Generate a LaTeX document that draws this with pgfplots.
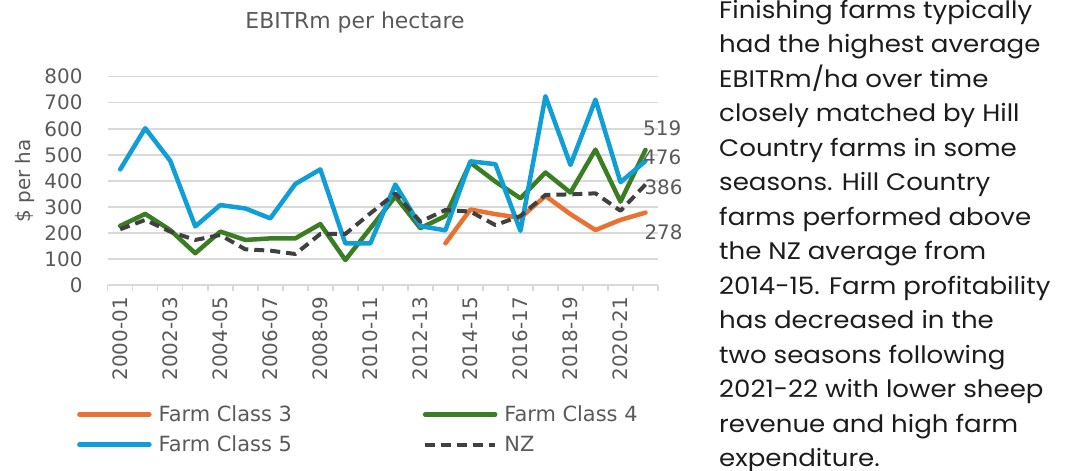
\documentclass[border=0pt]{standalone}
\usepackage{pgfplots}
\pgfplotsset{compat=1.18}
\usepackage{fontspec}
\setmainfont{DejaVu Sans}
\newfontfamily\bodyfont[FakeStretch=1.09]{Poppins}
\definecolor{fcthree}{HTML}{E97132}
\definecolor{fcfour}{HTML}{3B7D23}
\definecolor{fcfive}{HTML}{0F9ED5}
\definecolor{nzgray}{HTML}{404040}
\definecolor{gridgray}{HTML}{D9D9D9}
\definecolor{tickgray}{HTML}{595959}
\definecolor{bodytext}{HTML}{1C1C1C}
\begin{document}
\begin{tikzpicture}[x=1bp,y=1bp]
\useasboundingbox (0,0) rectangle (1079,471);
\clip (0,0) rectangle (1079,471);
\begin{axis}[
  at={(107.7bp,186bp)}, anchor=south west,
  scale only axis, width=550.3bp, height=208.3bp,
  xmin=-0.5, xmax=21.5, ymin=0, ymax=800,
  clip=false,
  axis x line*=bottom, axis y line*=left,
  x axis line style={-, gridgray, line width=1.5bp},
  y axis line style={draw=none},
  ytick={0,100,...,800},
  ymajorgrids, grid style={gridgray, line width=1.5bp},
  ytick style={draw=none},
  xtick={0,2,...,20},
  xticklabels={2000-01,2002-03,2004-05,2006-07,2008-09,2010-11,2012-13,2014-15,2016-17,2018-19,2020-21},
  xtick style={draw=none},
  extra x ticks={-0.5,0.5,...,21.5},
  extra x tick labels={},
  extra x tick style={grid=none, xtick style={draw=gridgray, line width=1.5bp}, major tick length=6bp, tick align=outside},
  /pgf/number format/assume math mode=true,
  tick label style={font=\fontsize{20}{24}\selectfont, text=tickgray},
  yticklabel style={inner sep=0pt, anchor=east, xshift=-25bp},
  xticklabel style={inner sep=0pt, yshift=-12bp, rotate=90, anchor=east},
  ylabel={\$ per ha},
  ylabel style={at={(axis description cs:-0.1503,0.5)}, anchor=center, font=\fontsize{20}{24}\selectfont, text=tickgray},
  title={EBITRm per hectare},
  title style={at={(axis description cs:0.4494,1.234)}, anchor=center, font=\fontsize{22}{26}\selectfont, text=tickgray},
  legend columns=2,
  legend cell align=left,
  legend style={at={(axis description cs:-0.0558,-0.5782)}, anchor=north west, draw=none, fill=none,
    font=\fontsize{21}{25}\selectfont, text=tickgray, inner sep=0pt,
    nodes={inner sep=0pt},
    row sep=13bp,
    /tikz/every odd column/.append style={column sep=7bp},
    /tikz/every even column/.append style={column sep=131bp}},
  legend image code/.code={\draw[#1] (0bp,0bp) -- (70bp,0bp);},
  every axis plot/.append style={line width=4.5bp, line join=round, line cap=round},
]
\addplot[fcthree] coordinates {(13,160) (14,290) (15,272) (16,258) (17,342) (18,272) (19,211) (20,250) (21,278)};
\addlegendentry{Farm Class 3}
\addplot[fcfour] coordinates {(0,227) (1,273) (2,211) (3,122) (4,205) (5,173) (6,179) (7,179) (8,234) (9,96) (10,218) (11,340) (12,218) (13,265) (14,470) (15,397) (16,333) (17,432) (18,355) (19,520) (20,320) (21,519)};
\addlegendentry{Farm Class 4}
\addplot[fcfive] coordinates {(0,444) (1,602) (2,477) (3,225) (4,307) (5,294) (6,256) (7,388) (8,444) (9,160) (10,160) (11,386) (12,226) (13,210) (14,475) (15,464) (16,208) (17,725) (18,461) (19,712) (20,395) (21,476)};
\addlegendentry{Farm Class 5}
\addplot[nzgray, line width=4bp, line cap=butt, dash pattern=on 10bp off 6bp] coordinates {(0,214) (1,250) (2,205) (3,173) (4,192) (5,137) (6,132) (7,119) (8,196) (9,196) (10,275) (11,352) (12,243) (13,288) (14,282) (15,230) (16,265) (17,346) (18,348) (19,352) (20,285) (21,386)};
\addlegendentry{NZ}
\node[font=\fontsize{20}{24}\selectfont, text=tickgray, inner sep=0pt] at (axis cs:21.67,603) {519};
\node[font=\fontsize{20}{24}\selectfont, text=tickgray, inner sep=0pt] at (axis cs:21.67,489) {476};
\node[font=\fontsize{20}{24}\selectfont, text=tickgray, inner sep=0pt] at (axis cs:21.72,374) {386};
\node[font=\fontsize{20}{24}\selectfont, text=tickgray, inner sep=0pt] at (axis cs:21.72,201) {278};
\end{axis}
\foreach \t [count=\i from 0] in {Finishing farms typically, had the highest average, EBITRm/ha over time, closely matched by Hill, Country farms in some, seasons. Hill Country, farms performed above, the NZ average from, 2014-15. Farm profitability, has decreased in the, two seasons following, 2021-22 with lower sheep, revenue and high farm, expenditure.}
  \node[anchor=base west, inner sep=0pt, text=bodytext, font=\bodyfont\fontsize{24}{28}\selectfont] at (719, {471-18.3-34.5*\i}) {\t};
\end{tikzpicture}
\end{document}
